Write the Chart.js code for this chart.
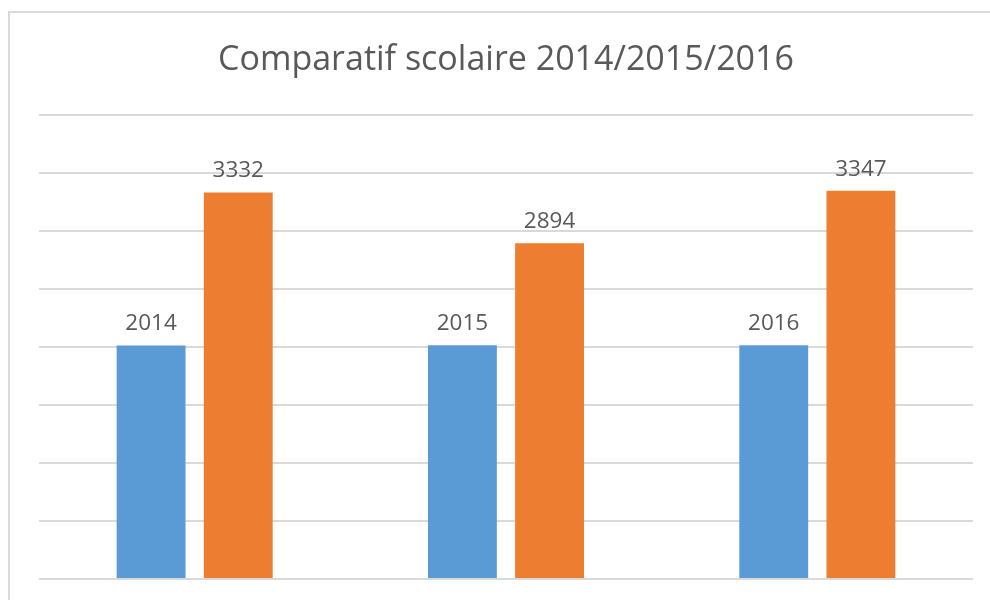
<!DOCTYPE html>
<html><head><meta charset="utf-8">
<script src="https://cdn.jsdelivr.net/npm/chart.js@4.4.1/dist/chart.umd.min.js"></script>
<style>html,body{margin:0;padding:0;background:#fff;}#wrap{width:990px;height:600px;position:relative;}</style>
</head><body><div id="wrap"><canvas id="c" width="990" height="600"></canvas></div>
<script>
const categories = ["2014", "2015", "2016"];
const seriesA = [2014, 2015, 2016];
const seriesB = [3332, 2894, 3347];
const titleText = "Comparatif scolaire 2014/2015/2016";

const borderPlugin = {
  id: 'frame',
  beforeDraw(chart) {
    const ctx = chart.ctx;
    ctx.save();
    ctx.fillStyle = '#fff';
    ctx.fillRect(0, 0, chart.width, chart.height);
    ctx.strokeStyle = '#d9d9d9';
    ctx.lineWidth = 2;
    ctx.strokeRect(9, 12, 1200, 1200);
    ctx.restore();
  }
};
const labelPlugin = {
  id: 'vlabels',
  afterDatasetsDraw(chart) {
    const ctx = chart.ctx;
    ctx.save();
    ctx.font = '22.5px "Open Sans"';
    ctx.fillStyle = '#595959';
    ctx.textAlign = 'center';
    ctx.textBaseline = 'alphabetic';
    chart.data.datasets.forEach((ds, i) => {
      chart.getDatasetMeta(i).data.forEach((bar, j) => {
        ctx.fillText(String(ds.data[j]), bar.x, bar.y - 15);
      });
    });
    ctx.restore();
  }
};

new Chart(document.getElementById('c'), {
  type: 'bar',
  data: {
    labels: categories,
    datasets: [
      { data: seriesA, backgroundColor: '#5b9bd5', barPercentage: 0.79, categoryPercentage: 0.56 },
      { data: seriesB, backgroundColor: '#ed7d31', barPercentage: 0.79, categoryPercentage: 0.56 }
    ]
  },
  options: {
    responsive: false,
    animation: false,
    layout: { padding: { left: 39, right: 17, top: 0, bottom: 13 } },
    plugins: {
      legend: { display: false },
      tooltip: { enabled: false },
      title: {
        display: true, text: titleText, color: '#595959',
        font: { family: '"Open Sans"', size: 34, weight: 'normal', lineHeight: 1.2 },
        padding: { top: 39.6, bottom: 34.6 }
      }
    },
    scales: {
      x: { grid: { display: false }, border: { display: false }, ticks: { display: false } },
      y: { min: 0, max: 4000, ticks: { display: false, stepSize: 500 },
           grid: { color: '#d9d9d9', lineWidth: 2, drawTicks: false }, border: { display: false } }
    }
  },
  plugins: [borderPlugin, labelPlugin]
});
</script></body></html>
